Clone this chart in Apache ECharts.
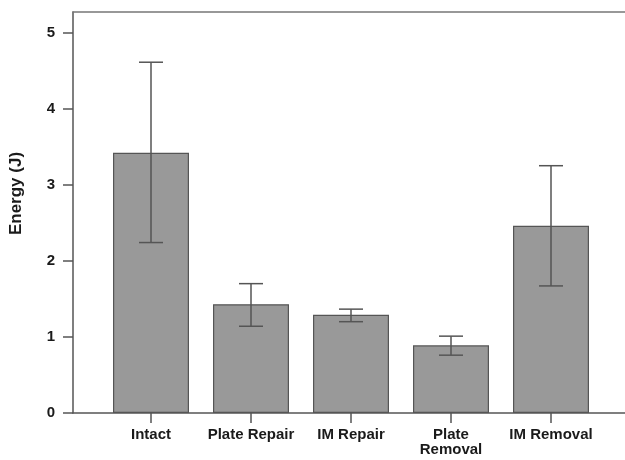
<!DOCTYPE html>
<html>
<head>
<meta charset="utf-8">
<script src="https://cdn.jsdelivr.net/npm/echarts@6/dist/echarts.min.js"></script>
<style>html,body{margin:0;padding:0;background:#fff}#c{width:625px;height:460px}</style>
</head>
<body>
<div id="c"></div>
<script>
var categories = ['Intact', 'Plate Repair', 'IM Repair', 'Plate\nRemoval', 'IM Removal'];
var positions = [1, 2, 3, 4, 5];
var means = [3.42, 1.43, 1.29, 0.89, 2.46];
var errLow = [2.24, 1.14, 1.20, 0.76, 1.67];
var errHigh = [4.61, 1.70, 1.365, 1.01, 3.25];
var yTicks = [0, 1, 2, 3, 4, 5];

var chart = echarts.init(document.getElementById('c'), null, {renderer: 'canvas'});
var axisColor = '#555';
var font = 'Liberation Sans, Arial, sans-serif';

var barData = positions.map(function (p, i) { return [p, means[i]]; });
var errData = positions.map(function (p, i) { return [p, errLow[i], errHigh[i]]; });

chart.setOption({
  animation: false,
  backgroundColor: '#fff',
  grid: {left: 73, top: 12, width: 552, bottom: 47, containLabel: false},
  xAxis: [{
    type: 'value', min: 0.22, max: 5.74, position: 'bottom',
    axisLine: {show: true, onZero: false, lineStyle: {color: axisColor, width: 1.5}},
    axisTick: {show: true, customValues: positions, length: 10, lineStyle: {color: axisColor, width: 1.5}},
    axisLabel: {
      show: true, customValues: positions, margin: 14,
      formatter: function (v) { var i = positions.indexOf(Math.round(v)); return i >= 0 ? categories[i] : ''; },
      fontFamily: font, fontWeight: 'bold', fontSize: 15, color: '#1a1a1a', lineHeight: 15
    },
    splitLine: {show: false}
  }, {
    type: 'value', min: 0.22, max: 5.74, position: 'top',
    axisLine: {show: true, onZero: false, lineStyle: {color: '#777', width: 1.5}},
    axisTick: {show: false}, axisLabel: {show: false}, splitLine: {show: false}
  }],
  yAxis: {
    type: 'value', min: 0, max: 5.27,
    name: 'Energy (J)', nameLocation: 'middle', nameGap: 48,
    nameTextStyle: {fontFamily: font, fontWeight: 'bold', fontSize: 17, color: '#1a1a1a', padding: [0, 0, 0, 38]},
    axisLine: {show: true, lineStyle: {color: axisColor, width: 1.5}},
    axisTick: {show: true, customValues: yTicks, length: 10, lineStyle: {color: axisColor, width: 1.5}},
    axisLabel: {show: true, customValues: yTicks, margin: 18, fontFamily: font, fontWeight: 'bold', fontSize: 15, color: '#1a1a1a'},
    splitLine: {show: false}
  },
  series: [{
    type: 'bar', xAxisIndex: 0, data: barData, barWidth: 76,
    itemStyle: {color: '#999999', borderColor: '#555', borderWidth: 1.2}
  }, {
    type: 'custom', xAxisIndex: 0, data: errData, encode: {x: 0, y: [1, 2]}, z: 5,
    renderItem: function (params, api) {
      var x = api.value(0);
      var lo = api.coord([x, api.value(1)]);
      var hi = api.coord([x, api.value(2)]);
      var hw = 12;
      var st = {stroke: '#555', lineWidth: 1.5};
      return {type: 'group', children: [
        {type: 'line', shape: {x1: lo[0], y1: lo[1], x2: hi[0], y2: hi[1]}, style: st},
        {type: 'line', shape: {x1: lo[0] - hw, y1: lo[1], x2: lo[0] + hw, y2: lo[1]}, style: st},
        {type: 'line', shape: {x1: hi[0] - hw, y1: hi[1], x2: hi[0] + hw, y2: hi[1]}, style: st}
      ]};
    }
  }]
});
</script>
</body>
</html>
